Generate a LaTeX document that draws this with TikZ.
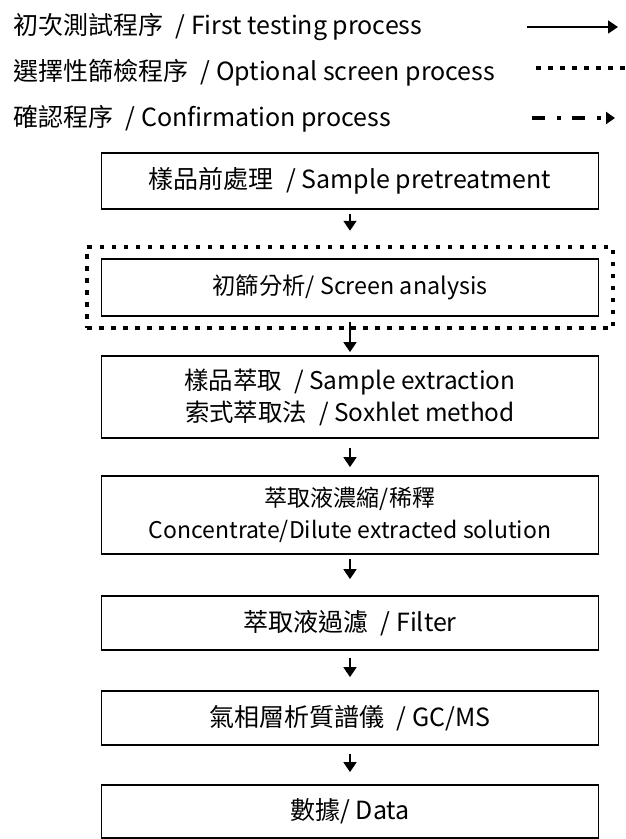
\documentclass[tikz,border=0pt]{standalone}
\usepackage{fontspec}
\setmainfont{Noto Sans CJK TC}
\usetikzlibrary{arrows.meta}

\tikzset{
  stepbox/.style={draw, line width=1.8pt, minimum width=497pt, minimum height=56pt,
    inner sep=0pt, align=center, font=\fontsize{25}{32}\selectfont},
  dotframe/.style={draw, line width=4.5pt, dash pattern=on 4.5pt off 7.5pt,
    minimum width=526pt, minimum height=81pt, inner sep=0pt},
  legtext/.style={anchor=west, inner sep=0pt, font=\fontsize{25}{32}\selectfont},
  flow/.style={-{Triangle[length=10pt,width=13pt]}, line width=1.8pt},
}

\begin{document}
\begin{tikzpicture}[x=1pt,y=-1pt]
\useasboundingbox (0,0) rectangle (625,839);

% legend
\node[legtext] (leg1) at (13,27) {初次測試程序\enspace/ First testing process};
\node[legtext] (leg2) at (13,73) {選擇性篩檢程序\enspace/ Optional screen process};
\node[legtext] (leg3) at (13,119) {確認程序\enspace/ Confirmation process};
\coordinate (l1s) at (527,27);
\coordinate (l1e) at (618,27);
\coordinate (l2s) at (536,68);
\coordinate (l2e) at (627,68);
\coordinate (l3s) at (532,118);
\coordinate (l3e) at (615,118);
\draw[flow] (l1s) -- (l1e);
\draw[line width=4.5pt, dash pattern=on 4.5pt off 7.5pt] (l2s) -- (l2e);
\draw[-{Triangle[length=9pt,width=12pt]}, line width=4pt,
  dash pattern=on 13pt off 12pt on 4pt off 11pt] (l3s) -- (l3e);

% flow chart
\node[stepbox] (b1) at (350,181) {樣品前處理\enspace/ Sample pretreatment};
\node[stepbox, minimum height=57pt, font=\fontsize{23.3}{32}\selectfont] (b2) at (350,287.5)
  {初篩分析/ Screen analysis};
\node[dotframe] (frame) at (350,287.5) {};
\node[stepbox, minimum height=82pt, font=\fontsize{24.4}{32}\selectfont] (b3) at (350,397)
  {樣品萃取\enspace/ Sample extraction\\索式萃取法\enspace/ Soxhlet method};
\node[stepbox, minimum height=78pt, font=\fontsize{23}{32}\selectfont] (b4) at (350,515)
  {萃取液濃縮/稀釋\\Concentrate/Dilute extracted solution};
\node[stepbox, minimum height=54pt] (b5) at (350,623) {萃取液過濾\enspace/ Filter};
\node[stepbox, minimum height=54pt] (b6) at (350,718) {氣相層析質譜儀\enspace/ GC/MS};
\node[stepbox, minimum height=53pt] (b7) at (350,811.5) {數據/ Data};

\draw[flow, shorten <=4pt, shorten >=14pt] (b1) -- (frame);
\draw[flow, shorten <=5pt, shorten >=3pt] (b2) -- (b3);
\draw[flow, shorten <=9pt, shorten >=8pt] (b3) -- (b4);
\draw[flow, shorten <=4pt, shorten >=16pt] (b4) -- (b5);
\draw[flow, shorten <=7pt, shorten >=13pt] (b5) -- (b6);
\draw[flow, shorten <=8pt, shorten >=12pt] (b6) -- (b7);
\end{tikzpicture}
\end{document}
